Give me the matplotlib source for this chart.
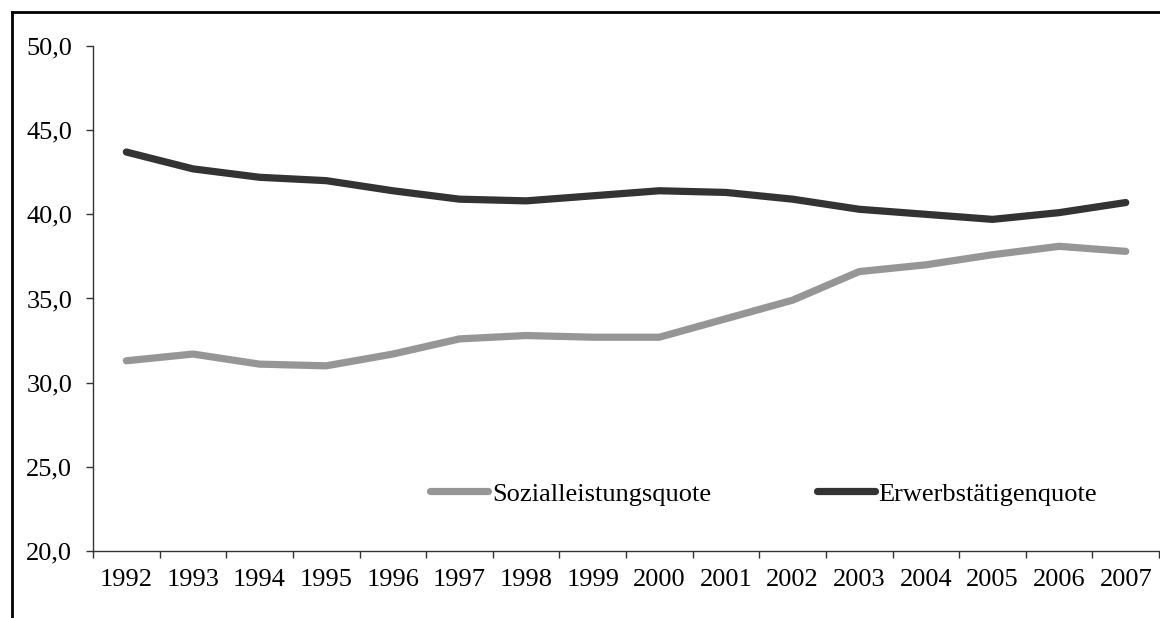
import matplotlib.pyplot as plt
from matplotlib.lines import Line2D
from matplotlib.ticker import FuncFormatter, FixedLocator

years = ['1992', '1993', '1994', '1995', '1996', '1997', '1998', '1999',
         '2000', '2001', '2002', '2003', '2004', '2005', '2006', '2007']
sozialleistungsquote = [31.3, 31.7, 31.1, 31.0, 31.7, 32.6, 32.8, 32.7,
                        32.7, 33.8, 34.9, 36.6, 37.0, 37.6, 38.1, 37.8]
erwerbstaetigenquote = [43.7, 42.7, 42.2, 42.0, 41.4, 40.9, 40.8, 41.1,
                        41.4, 41.3, 40.9, 40.3, 40.0, 39.7, 40.1, 40.7]

plt.rcParams['font.family'] = ['Liberation Serif', 'DejaVu Serif']

fig = plt.figure(figsize=(11.6, 6.18), dpi=100)
ax = fig.add_axes([0.0802, 0.1084, 0.919, 0.8172])

x = list(range(len(years)))
ax.plot(x, sozialleistungsquote, color='#969696', lw=5.2, solid_capstyle='round',
        solid_joinstyle='round', label='Sozialleistungsquote')
ax.plot(x, erwerbstaetigenquote, color='#333333', lw=5.2, solid_capstyle='round',
        solid_joinstyle='round', label='Erwerbstätigenquote')

ax.set_xlim(-0.5, len(years) - 0.5)
ax.set_ylim(20, 50)
ax.set_yticks([20, 25, 30, 35, 40, 45, 50])
ax.yaxis.set_major_formatter(FuncFormatter(lambda v, p: f'{v:.1f}'.replace('.', ',')))

ax.set_xticks(x)
ax.set_xticklabels(years)
ax.xaxis.set_minor_locator(FixedLocator([i - 0.5 for i in range(len(years) + 1)]))
ax.tick_params(axis='x', which='major', length=0, pad=13, labelsize=19)
ax.tick_params(axis='x', which='minor', length=5, width=1, color='#333333')
ax.tick_params(axis='y', length=5, width=1, color='#333333', pad=10, labelsize=19)

for s in ['top', 'right']:
    ax.spines[s].set_visible(False)
for s in ['left', 'bottom']:
    ax.spines[s].set_color('#333333')
    ax.spines[s].set_linewidth(1)

ax.legend(loc='center left', bbox_to_anchor=(0.316, 0.113), ncol=2, frameon=False,
          fontsize=19, handlelength=2.2, handletextpad=0.15, columnspacing=4.0,
          borderpad=0, borderaxespad=0)

# frame around the figure (top and left edges visible)
fig.add_artist(Line2D([12 / 1160, 12 / 1160], [0, 1 - 12 / 618], color='black', lw=2,
                      transform=fig.transFigure))
fig.add_artist(Line2D([12 / 1160, 1], [1 - 12 / 618, 1 - 12 / 618], color='black', lw=2,
                      transform=fig.transFigure))

fig.savefig('out.png', dpi=100)
